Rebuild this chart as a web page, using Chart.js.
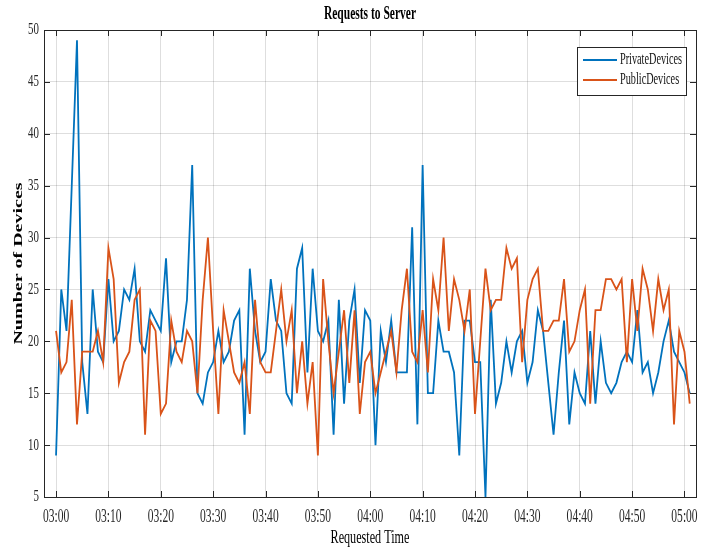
<!DOCTYPE html>
<html>
<head>
<meta charset="utf-8">
<script src="https://cdn.jsdelivr.net/npm/chart.js@4.4.1/dist/chart.umd.min.js"></script>
<style>
html,body{margin:0;padding:0;background:#fff;}
#wrap{width:712px;height:548px;}
</style>
</head>
<body>
<div id="wrap"><canvas id="c" width="712" height="548"></canvas></div>
<script>
// ---- data (one value per minute, starting at 03:00) ----
const privateDevices = [
  9,25,21,35,49,18,13,25,19,18,
  26,20,21,25,24,27,20,19,23,22,
  21,28,18,20,20,24,37,15,14,17,
  18,21,18,19,22,23,11,27,21,18,
  19,26,22,21,15,14,27,29,17,27,
  21,20,22,11,24,14,22,25,16,23,
  22,10,21,18,22,17,17,17,31,12,
  37,15,15,22,19,19,17,9,22,22,
  18,18,5,24,14,16,20,17,20,21,
  16,18,23,21,16,11,17,22,12,17,
  15,14,21,14,20,16,15,16,18,19,
  18,23,17,18,15,17,20,22,19,18,
  17,15
];
const publicDevices = [
  21,17,18,24,12,19,19,19,21,18,
  29,26,16,18,19,24,25,11,22,21,
  13,14,22,19,18,21,20,15,24,30,
  21,13,23,20,17,16,18,13,24,18,
  17,17,21,25,20,23,15,20,14,18,
  9,26,20,15,19,23,16,23,13,18,
  19,15,17,19,21,17,23,27,19,18,
  23,17,26,23,30,21,26,24,21,25,
  13,20,27,23,24,24,29,27,28,18,
  24,26,27,21,21,22,22,26,19,20,
  23,25,14,23,23,26,26,25,26,18,
  26,21,27,25,21,26,23,25,12,21,
  19,14
];
const seriesNames = ['PrivateDevices', 'PublicDevices'];
const tickMinutes = [0,10,20,30,40,50,60,70,80,90,100,110,120];
const tickLabels = ['03:00','03:10','03:20','03:30','03:40','03:50','04:00','04:10','04:20','04:30','04:40','04:50','05:00'];

const FONT = '"Liberation Serif", "Times New Roman", serif';
const SX = 0.64; // horizontal text condensing like the reference
const AXIS = '#262626';

const canvas = document.getElementById('c');
const ctx = canvas.getContext('2d');
(function condenseText(c) {
  const ft = c.fillText.bind(c);
  const mt = c.measureText.bind(c);
  c.fillText = function (t, x, y, maxW) {
    const m = c.getTransform();
    c.save();
    c.translate(x, y);
    if (Math.abs(m.b) > 0.5) c.scale(1, SX); else c.scale(SX, 1);
    if (maxW !== undefined && maxW !== null) ft(t, 0, 0, maxW / SX); else ft(t, 0, 0);
    c.restore();
  };
  c.measureText = function (t) {
    const r = mt(t);
    return {
      width: r.width * SX,
      actualBoundingBoxAscent: r.actualBoundingBoxAscent,
      actualBoundingBoxDescent: r.actualBoundingBoxDescent,
      actualBoundingBoxLeft: r.actualBoundingBoxLeft * SX,
      actualBoundingBoxRight: r.actualBoundingBoxRight * SX
    };
  };
})(ctx);

const frame = {
  id: 'frame',
  afterDatasetsDraw(chart) {
    const c = chart.ctx, a = chart.chartArea;
    const xs = chart.scales.x, ys = chart.scales.y;
    c.save();
    c.strokeStyle = AXIS;
    c.lineWidth = 1;
    c.strokeRect(Math.round(a.left) + 0.5, Math.round(a.top) + 0.5,
                 Math.round(a.right - a.left), Math.round(a.bottom - a.top));
    c.beginPath();
    xs.ticks.forEach(t => {
      const px = Math.round(xs.getPixelForValue(t.value)) + 0.5;
      c.moveTo(px, a.bottom); c.lineTo(px, a.bottom - 6);
      c.moveTo(px, a.top); c.lineTo(px, a.top + 6);
    });
    ys.ticks.forEach(t => {
      const py = Math.round(ys.getPixelForValue(t.value)) + 0.5;
      c.moveTo(a.left, py); c.lineTo(a.left + 6, py);
      c.moveTo(a.right, py); c.lineTo(a.right - 6, py);
    });
    c.stroke();
    c.restore();
  }
};

const legendBox = {
  id: 'legendBox',
  afterDraw(chart) {
    const c = chart.ctx, a = chart.chartArea;
    const x0 = Math.round(a.right) - 119, y0 = Math.round(a.top) + 17, w = 109, h = 48;
    c.save();
    c.fillStyle = '#fff';
    c.fillRect(x0, y0, w, h);
    c.strokeStyle = AXIS;
    c.lineWidth = 1;
    c.strokeRect(x0 + 0.5, y0 + 0.5, w, h);
    c.font = '16px ' + FONT;
    c.textBaseline = 'middle';
    c.textAlign = 'left';
    chart.data.datasets.forEach((ds, i) => {
      const y = y0 + 13 + i * 20;
      c.strokeStyle = ds.borderColor;
      c.lineWidth = 2;
      c.beginPath(); c.moveTo(x0 + 6, y); c.lineTo(x0 + 40, y); c.stroke();
      c.fillStyle = '#111';
      c.fillText(ds.label, x0 + 43, y);
    });
    c.restore();
  }
};

new Chart(ctx, {
  type: 'line',
  data: {
    datasets: [
      {
        label: seriesNames[0],
        data: privateDevices.map((v, i) => ({ x: i, y: v })),
        borderColor: '#0072BD',
        borderWidth: 1.8,
        pointRadius: 0,
        tension: 0,
        fill: false,
        order: 1
      },
      {
        label: seriesNames[1],
        data: publicDevices.map((v, i) => ({ x: i, y: v })),
        borderColor: '#D95319',
        borderWidth: 1.8,
        pointRadius: 0,
        tension: 0,
        fill: false,
        order: 0
      }
    ]
  },
  options: {
    responsive: false,
    animation: false,
    devicePixelRatio: 1,
    layout: { padding: { left: 0, right: 16, top: 0, bottom: 0 } },
    plugins: {
      legend: { display: false },
      tooltip: { enabled: false },
      title: {
        display: true,
        text: 'Requests to Server',
        fullSize: false,
        color: '#000',
        font: { family: FONT, size: 18, weight: 'bold', lineHeight: 1 },
        padding: { top: 5, bottom: 7 }
      }
    },
    scales: {
      x: {
        type: 'linear',
        min: -2.3,
        max: 122.2,
        afterBuildTicks: s => { s.ticks = tickMinutes.map(v => ({ value: v })); },
        afterFit: s => { s.height = 51; },
        ticks: {
          autoSkip: false,
          maxRotation: 0,
          padding: 9,
          color: AXIS,
          font: { family: FONT, size: 18 },
          callback: (v, i) => tickLabels[i]
        },
        grid: { color: 'rgba(0,0,0,0.13)', drawTicks: false },
        border: { display: false },
        title: {
          display: true,
          text: 'Requested Time',
          color: '#000',
          font: { family: FONT, size: 19, lineHeight: 1 },
          padding: { top: 0, bottom: 0 }
        }
      },
      y: {
        min: 5,
        max: 50,
        afterFit: s => { s.width = 44; },
        ticks: {
          stepSize: 5,
          padding: 5,
          color: AXIS,
          font: { family: FONT, size: 17 }
        },
        grid: { color: 'rgba(0,0,0,0.13)', drawTicks: false },
        border: { display: false },
        title: {
          display: true,
          text: 'Number of Devices',
          color: '#000',
          font: { family: FONT, size: 20, weight: 'bold', lineHeight: 1 },
          padding: { top: 9, bottom: 0 }
        }
      }
    }
  },
  plugins: [frame, legendBox]
});
</script>
</body>
</html>
